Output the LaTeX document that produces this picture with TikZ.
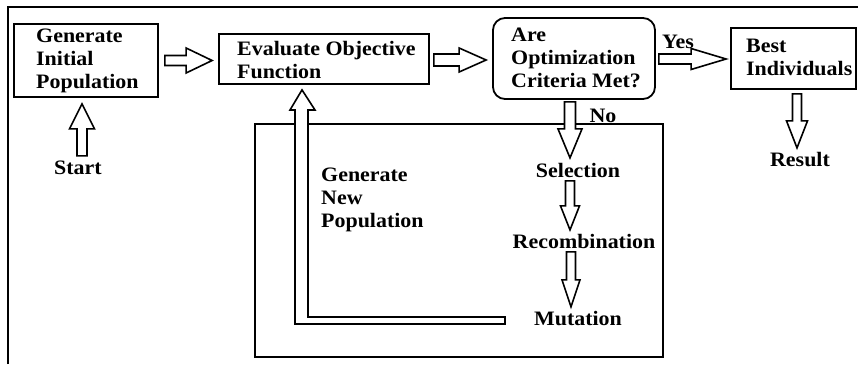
\documentclass[tikz,border=0pt]{standalone}
\usepackage{fontspec}
\setmainfont{Liberation Serif}[FakeStretch=1.07]
\usetikzlibrary{calc}
\tikzset{
  box/.style={draw=black, line width=1.8pt, inner sep=0pt},
  txt/.style={inner sep=0pt, align=left, font=\bfseries\fontsize{20.5}{23}\selectfont},
  blockline/.style={draw=black, line width=1.6pt, fill=white, line join=miter},
  frame/.style={draw=black, line width=1.8pt}
}
\newcommand{\blockarr}[5]{%
  \coordinate (ba-hb) at ($(#2)!#5!(#1)$);
  \draw[blockline] ($(#1)!#3!90:(#2)$) -- ($(ba-hb)!#3!90:(#2)$) -- ($(ba-hb)!#4!90:(#2)$) -- (#2) -- ($(ba-hb)!#4!-90:(#2)$) -- ($(ba-hb)!#3!-90:(#2)$) -- ($(#1)!#3!-90:(#2)$) -- cycle;
}
\begin{document}
\begin{tikzpicture}[x=1pt, y=-1pt]
\useasboundingbox (0,0) rectangle (858,364);
% frame
\draw[frame] (8,364) -- (8,7) -- (858,7);
% boxes
\node[box, minimum width=144pt, minimum height=73pt] (gip) at (86,60.5) {};
\node[txt, anchor=west] (gipt) at (36,60.5) {Generate\\Initial\\Population};
\node[box, minimum width=210pt, minimum height=50pt] (eof) at (324,59) {};
\node[txt, anchor=west] (eoft) at (237,60) {Evaluate Objective\\Function};
\node[box, rounded corners=12pt, minimum width=162pt, minimum height=81pt] (crit) at (574,58.5) {};
\node[txt, anchor=west] (critt) at (511,58) {Are\\Optimization\\Criteria Met?};
\node[box, minimum width=125pt, minimum height=61pt] (best) at (793.5,58.5) {};
\node[txt, anchor=west] (bestt) at (746,57) {Best\\Individuals};
\node[box, line width=1.5pt, minimum width=408pt, minimum height=233pt] (pop) at (459,240.5) {};
% labels
\node[txt] (start) at (78,168) {Start};
\node[txt] (yes) at (678,42) {Yes};
\node[txt] (no) at (603,116) {No};
\node[txt] (result) at (800,160) {Result};
\node[txt] (sel) at (578,170.5) {Selection};
\node[txt] (rec) at (584,241.5) {Recombination};
\node[txt] (mut) at (578,319) {Mutation};
\node[txt, anchor=west] (gnp) at (321,200) {Generate\\New\\Population};
% arrow end points
\coordinate (a1s) at ($(gip.east)+(6,0)$);
\coordinate (a1e) at ($(eof.west |- a1s)+(-6,0)$);
\coordinate (a2s) at ($(eof.east)+(4,1)$);
\coordinate (a2e) at ($(crit.west |- a2s)+(-6,0)$);
\coordinate (a3s) at ($(crit.east)+(3,0.5)$);
\coordinate (a3e) at ($(best.west |- a3s)+(-4,0)$);
\coordinate (a4s) at ($(crit.south)+(-4,2)$);
\coordinate (a4e) at ($(a4s)+(0,56)$);
\coordinate (a5s) at ($(best.south)+(3.5,4)$);
\coordinate (a5e) at ($(a5s)+(0,54)$);
\coordinate (a6s) at ($(start.north)+(4,-5)$);
\coordinate (a6e) at ($(gip.south -| a6s)+(0,6)$);
\coordinate (a7s) at ($(sel.south -| 570,0)+(0,3)$);
\coordinate (a7e) at ($(a7s)+(0,49)$);
\coordinate (a8s) at ($(rec.south -| 571,0)+(0,3)$);
\coordinate (a8e) at ($(a8s)+(0,55)$);
% block arrows
\blockarr{a1s}{a1e}{5pt}{12.5pt}{26pt}
\blockarr{a2s}{a2e}{6pt}{12pt}{27pt}
\blockarr{a3s}{a3e}{5pt}{10.5pt}{35pt}
\blockarr{a4s}{a4e}{5.5pt}{12pt}{29pt}
\blockarr{a5s}{a5e}{4.5pt}{10.5pt}{27pt}
\blockarr{a6s}{a6e}{5pt}{12.5pt}{25pt}
\blockarr{a7s}{a7e}{4.5pt}{9.5pt}{24pt}
\blockarr{a8s}{a8e}{4.5pt}{9pt}{27pt}
% feedback elbow arrow
\coordinate (fbtip) at ($(eof.south -| 302,0)+(0,5)$);
\draw[blockline] (505,324) -- (295,324) -- (295,110) -- (290,110) -- (fbtip) -- (315,110) -- (308,110) -- (308,317) -- (505,317) -- cycle;
\end{tikzpicture}
\end{document}
